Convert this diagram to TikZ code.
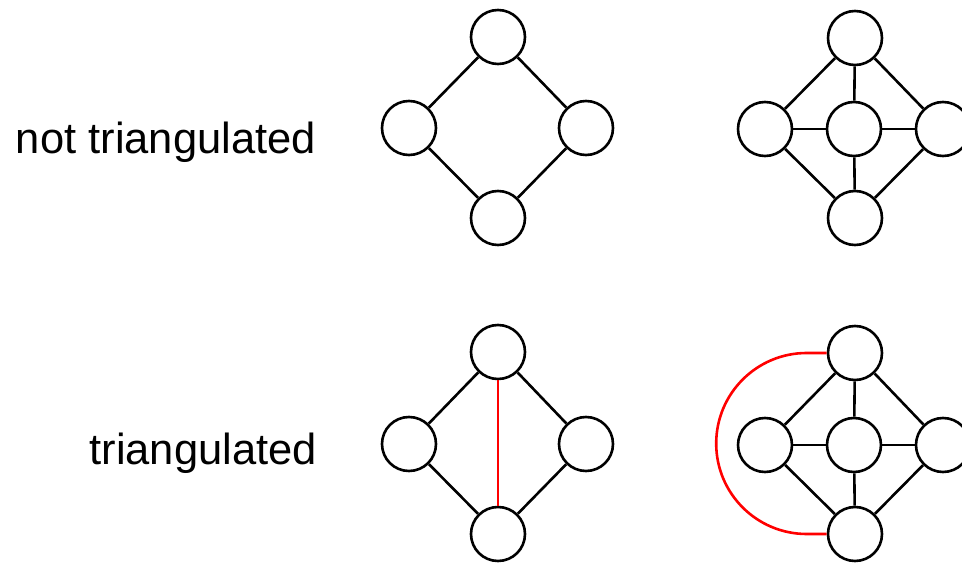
\documentclass[tikz,border=0pt]{standalone}
\usepackage{fontspec}
\setmainfont{Liberation Sans}
\usepackage{tikz}
\usetikzlibrary{positioning}

\tikzset{
  vertex/.style={draw, circle, line width=2.6pt, minimum size=54pt, inner sep=0pt},
  edge/.style={line width=2.6pt},
  fillin/.style={line width=2.6pt, red},
  caption/.style={anchor=base east, inner sep=0pt, font=\fontsize{43.5}{52}\selectfont}
}

\begin{document}
\begin{tikzpicture}[x=1pt, y=-1pt]
        \useasboundingbox (0,0) rectangle (962,564);
        \clip (0,0) rectangle (962,564);

        \node[caption] (lblnot) at (316,154) {not triangulated};
        \node[caption] (lbltri) at (317,464) {triangulated};

        % four-cycle, no chord
        \node[vertex] (ct) at (498,37) {};
        \node[vertex] (cl) at (409,128) {};
        \node[vertex] (cr) at (586,128) {};
        \node[vertex] (cb) at (498,218) {};
        \draw[edge] (ct) -- (cl) -- (cb) -- (cr) -- (ct);

        % wheel with one spoke hub
        \node[vertex] (wt) at (855,38) {};
        \node[vertex] (wl) at (765,129) {};
        \node[vertex] (wm) at (854,129) {};
        \node[vertex] (wr) at (943,129) {};
        \node[vertex] (wb) at (855,218) {};
        \draw[edge] (wt) -- (wl) -- (wb) -- (wr) -- (wt);
        \draw[edge] (wt) -- (wm) -- (wb);
        \draw[edge] (wl) -- (wm) -- (wr);

        % four-cycle plus chord
        \node[vertex] (tt) at (498,352) {};
        \node[vertex] (tl) at (409,444) {};
        \node[vertex] (tr) at (586,444) {};
        \node[vertex] (tb) at (498,534) {};
        \draw[edge] (tt) -- (tl) -- (tb) -- (tr) -- (tt);
        \draw[fillin] (tt) -- (tb);

        % wheel plus outer chord
        \node[vertex] (vt) at (855,353) {};
        \node[vertex] (vl) at (765,445) {};
        \node[vertex] (vm) at (854,445) {};
        \node[vertex] (vr) at (943,445) {};
        \node[vertex] (vb) at (855,534) {};
        \draw[edge] (vt) -- (vl) -- (vb) -- (vr) -- (vt);
        \draw[edge] (vt) -- (vm) -- (vb);
        \draw[edge] (vl) -- (vm) -- (vr);
        \draw[fillin] (vt.west) -- ++(-20,0) arc[start angle=90, end angle=270, radius=90.5pt] -- (vb.west);

    \end{tikzpicture}
\end{document}
